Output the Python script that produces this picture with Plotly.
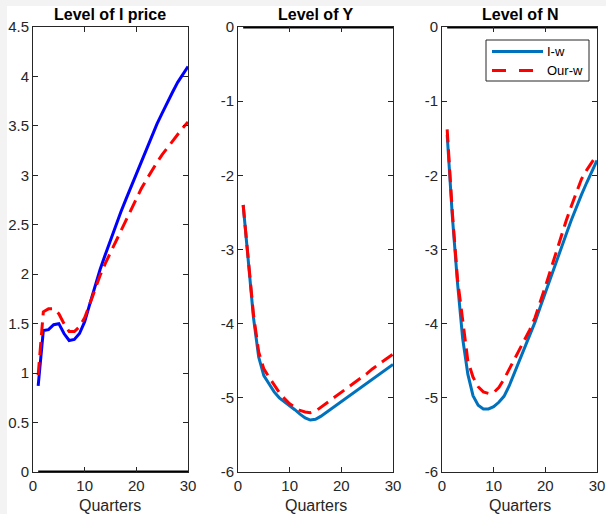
import plotly.graph_objects as go

# ---------------- data ----------------
quarters = list(range(1, 31))

iprice_iw = [0.87, 1.43, 1.44, 1.49, 1.50, 1.40, 1.33, 1.34, 1.40, 1.52,
             1.70, 1.88, 2.05, 2.20, 2.35, 2.49, 2.63, 2.76, 2.89, 3.01,
             3.14, 3.27, 3.40, 3.52, 3.63, 3.74, 3.84, 3.94, 4.02, 4.10]
iprice_ourw = [0.98, 1.62, 1.65, 1.65, 1.60, 1.50, 1.42, 1.42, 1.47, 1.56,
               1.70, 1.85, 1.99, 2.11, 2.22, 2.33, 2.44, 2.55, 2.66, 2.77,
               2.87, 2.96, 3.05, 3.13, 3.21, 3.28, 3.35, 3.42, 3.48, 3.54]

y_iw = [-2.40, -3.20, -3.92, -4.45, -4.70, -4.81, -4.92, -5.00, -5.05, -5.10,
        -5.16, -5.22, -5.27, -5.30, -5.29, -5.25, -5.20, -5.15, -5.10, -5.05,
        -5.00, -4.95, -4.90, -4.85, -4.80, -4.75, -4.70, -4.65, -4.60, -4.55]
y_ourw = [-2.40, -3.18, -3.88, -4.38, -4.61, -4.72, -4.83, -4.93, -5.01, -5.08,
          -5.13, -5.17, -5.19, -5.20, -5.18, -5.13, -5.08, -5.03, -4.98, -4.93,
          -4.88, -4.83, -4.77, -4.72, -4.67, -4.61, -4.56, -4.51, -4.46, -4.41]

n_iw = [-1.45, -2.55, -3.45, -4.20, -4.68, -4.97, -5.10, -5.15, -5.15, -5.12,
        -5.06, -4.98, -4.84, -4.67, -4.50, -4.33, -4.15, -3.98, -3.78, -3.58,
        -3.38, -3.18, -2.99, -2.80, -2.61, -2.43, -2.26, -2.10, -1.95, -1.80]
n_ourw = [-1.38, -2.50, -3.40, -3.98, -4.50, -4.72, -4.85, -4.92, -4.94, -4.93,
          -4.86, -4.75, -4.62, -4.48, -4.34, -4.21, -4.08, -3.92, -3.72, -3.50,
          -3.28, -3.05, -2.83, -2.62, -2.42, -2.23, -2.05, -1.93, -1.82, -1.72]

zero_level = [0] * len(quarters)

titles = ["Level of I price", "Level of Y", "Level of N"]
series_names = ["I-w", "Our-w"]
x_label = "Quarters"

x_tickvals = [0, 10, 20, 30]
x_ticktext = ["0", "10", "20", "30"]
y1_tickvals = [0, 0.5, 1, 1.5, 2, 2.5, 3, 3.5, 4, 4.5]
y1_ticktext = ["0", "0.5", "1", "1.5", "2", "2.5", "3", "3.5", "4", "4.5"]
y23_tickvals = [-6, -5, -4, -3, -2, -1, 0]
y23_ticktext = ["-6", "-5", "-4", "-3", "-2", "-1", "0"]

# ---------------- styling ----------------
W, H = 606, 514
FONT = "Liberation Sans, Arial, sans-serif"
AX = "#262626"
BLUE1 = "#0000FF"
BLUE2 = "#0072BD"
RED = "#FF0000"
DASH = "13px,7px"

panels_px = [(33, 188), (238, 393), (442, 597)]
top_px, bot_px = 27, 472
ydom = [1 - bot_px / H, 1 - top_px / H]


def px(x):
    return x / W


def py(y):
    return 1 - y / H


fig = go.Figure()

panel_data = [
    (iprice_iw, iprice_ourw, BLUE1),
    (y_iw, y_ourw, BLUE2),
    (n_iw, n_ourw, BLUE2),
]

for i, (iw, ourw, bcol) in enumerate(panel_data):
    xa = "x" if i == 0 else f"x{i+1}"
    ya = "y" if i == 0 else f"y{i+1}"
    fig.add_trace(go.Scatter(x=quarters, y=zero_level, mode="lines",
                             line=dict(color="black", width=3),
                             xaxis=xa, yaxis=ya, showlegend=False, hoverinfo="skip"))
    fig.add_trace(go.Scatter(x=quarters, y=iw, mode="lines", name=series_names[0],
                             line=dict(color=bcol, width=3),
                             xaxis=xa, yaxis=ya, showlegend=False))
    fig.add_trace(go.Scatter(x=quarters, y=ourw, mode="lines", name=series_names[1],
                             line=dict(color=RED, width=3, dash=DASH),
                             xaxis=xa, yaxis=ya, showlegend=False))

common_axis = dict(showline=True, linecolor=AX, linewidth=1, mirror="ticks",
                   ticks="inside", ticklen=5, tickcolor=AX, tickwidth=1,
                   showgrid=False, zeroline=False, automargin=False,
                   tickfont=dict(family=FONT, size=15, color=AX))

layout = dict(width=W, height=H, autosize=False,
              margin=dict(l=0, r=0, t=0, b=0, autoexpand=False),
              paper_bgcolor="white", plot_bgcolor="white",
              font=dict(family=FONT, color=AX),
              showlegend=False)

annotations = []
for i, (x0, x1) in enumerate(panels_px):
    key = "" if i == 0 else str(i + 1)
    layout["xaxis" + key] = dict(common_axis, domain=[px(x0), px(x1)], range=[0, 30],
                                 tickmode="array", tickvals=x_tickvals, ticktext=x_ticktext,
                                 anchor="y" + key)
    if i == 0:
        layout["yaxis" + key] = dict(common_axis, domain=ydom, range=[0, 4.5],
                                     tickmode="array", tickvals=y1_tickvals,
                                     ticktext=y1_ticktext, anchor="x" + key)
    else:
        layout["yaxis" + key] = dict(common_axis, domain=ydom, range=[-6, 0],
                                     tickmode="array", tickvals=y23_tickvals,
                                     ticktext=y23_ticktext, anchor="x" + key)
    cx = px((x0 + x1) / 2)
    annotations.append(dict(text="<b>" + titles[i] + "</b>", x=cx, y=py(14),
                            xref="paper", yref="paper", xanchor="center", yanchor="middle",
                            showarrow=False, font=dict(family=FONT, size=16, color="black")))
    annotations.append(dict(text=x_label, x=cx, y=py(505),
                            xref="paper", yref="paper", xanchor="center", yanchor="middle",
                            showarrow=False, font=dict(family=FONT, size=16, color=AX)))

# legend (drawn in the third panel, MATLAB style)
leg_rows = [(series_names[0], BLUE2, "solid", 51.5),
            (series_names[1], RED, "14px,13px", 70.5)]
shapes = [
    dict(type="rect", xref="paper", yref="paper", x0=0, x1=px(7), y0=0, y1=1,
         fillcolor="#f3f3f3", line=dict(width=0), layer="below"),
    dict(type="rect", xref="paper", yref="paper", x0=0, x1=1, y0=py(6), y1=1,
         fillcolor="#f3f3f3", line=dict(width=0), layer="below"),
    dict(type="rect", xref="paper", yref="paper", x0=px(486), x1=px(589),
         y0=py(81), y1=py(40), fillcolor="white", line=dict(color=AX, width=1),
         layer="above"),
]
for name, col, dash, yy in leg_rows:
    shapes.append(dict(type="line", xref="paper", yref="paper",
                       x0=px(492), x1=px(543), y0=py(yy), y1=py(yy),
                       line=dict(color=col, width=3, dash=dash), layer="above"))
    annotations.append(dict(text=name, x=px(545), y=py(yy), xref="paper", yref="paper",
                            xanchor="left", yanchor="middle", showarrow=False,
                            font=dict(family=FONT, size=13, color="black")))

layout["annotations"] = annotations
layout["shapes"] = shapes

fig.update_layout(**layout)
fig.write_html("out.html", config={"displayModeBar": False},
               post_script="document.body.style.margin='0';document.body.style.overflow='hidden';")
